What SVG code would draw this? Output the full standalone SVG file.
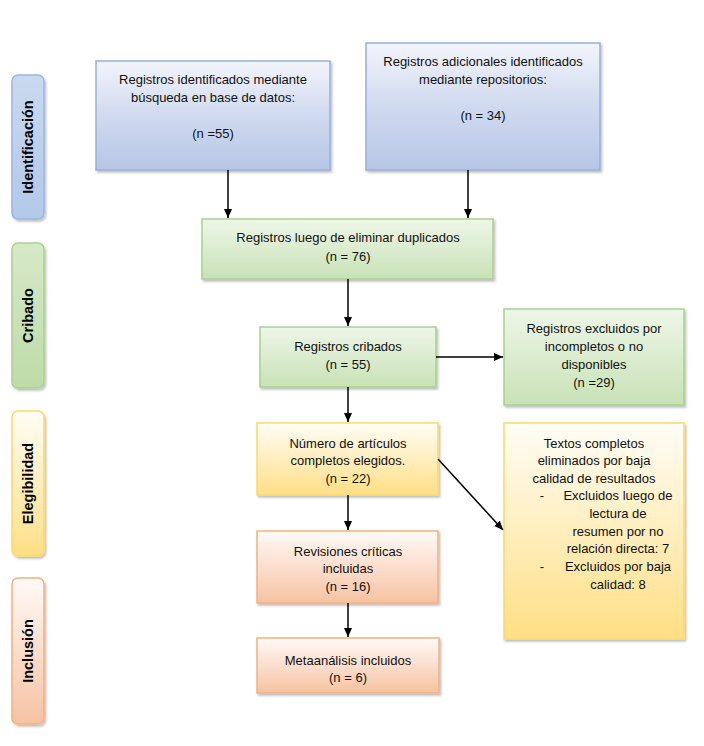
<svg xmlns="http://www.w3.org/2000/svg" width="704" height="746" viewBox="0 0 704 746">
<defs>
<linearGradient id="gBlue" x1="0" y1="0" x2="0" y2="1"><stop offset="0" stop-color="#f3f5fb"/><stop offset="0.45" stop-color="#d3dcf0"/><stop offset="1" stop-color="#b6c6e6"/></linearGradient>
<linearGradient id="gGreen" x1="0" y1="0" x2="0" y2="1"><stop offset="0" stop-color="#eef6e8"/><stop offset="1" stop-color="#c8e2b6"/></linearGradient>
<linearGradient id="gYellow" x1="0" y1="0" x2="0" y2="1"><stop offset="0" stop-color="#fffdf6"/><stop offset="1" stop-color="#ffdf85"/></linearGradient>
<linearGradient id="gPeach" x1="0" y1="0" x2="0" y2="1"><stop offset="0" stop-color="#fffaf7"/><stop offset="1" stop-color="#f6c2a2"/></linearGradient>
<linearGradient id="sBlue" x1="0" y1="0" x2="0" y2="1"><stop offset="0" stop-color="#c9d9f0"/><stop offset="1" stop-color="#b2c9e8"/></linearGradient>
<linearGradient id="sGreen" x1="0" y1="0" x2="0" y2="1"><stop offset="0" stop-color="#d6e9c8"/><stop offset="1" stop-color="#bedba8"/></linearGradient>
<filter id="sh" x="-10%" y="-10%" width="130%" height="130%"><feDropShadow dx="1.5" dy="2" stdDeviation="1.2" flood-color="#000" flood-opacity="0.25"/></filter>
<marker id="ah" markerWidth="10" markerHeight="10" refX="9" refY="5" orient="auto" markerUnits="userSpaceOnUse"><path d="M0,1 L9,5 L0,9 Z" fill="#000"/></marker>
</defs>
<style>
text{font-family:"Liberation Sans",Arial,sans-serif;font-size:13px;fill:#111;text-anchor:middle}
.side{font-weight:bold;font-size:14.5px;fill:#000}
.b{stroke-width:1.5}
.blue{fill:url(#gBlue);stroke:#98b0da}
.green{fill:url(#gGreen);stroke:#a9d18e}
.yellow{fill:url(#gYellow);stroke:#ffd966}
.peach{fill:url(#gPeach);stroke:#f4b183}
.conn line{stroke:#000;stroke-width:1.5;marker-end:url(#ah)}
</style>
<rect width="704" height="746" fill="#fff"/>

<g id="side-identificacion"><rect x="12" y="75" width="32" height="144" rx="6" fill="url(#sBlue)" stroke="#9bb7de" class="b" filter="url(#sh)"/><text class="side" transform="translate(33,147) rotate(-90)">Identificación</text></g>
<g id="side-cribado"><rect x="12" y="243" width="32" height="145" rx="6" fill="url(#sGreen)" stroke="#a9d18e" class="b" filter="url(#sh)"/><text class="side" transform="translate(33,315.5) rotate(-90)">Cribado</text></g>
<g id="side-elegibilidad"><rect x="12" y="411" width="32" height="145" rx="6" fill="url(#gYellow)" stroke="#ffd966" class="b" filter="url(#sh)"/><text class="side" transform="translate(33,483.5) rotate(-90)">Elegibilidad</text></g>
<g id="side-inclusion"><rect x="12" y="578" width="32" height="146" rx="6" fill="url(#gPeach)" stroke="#f4b183" class="b" filter="url(#sh)"/><text class="side" transform="translate(33,651) rotate(-90)">Inclusión</text></g>

<g id="n-busqueda"><rect x="96" y="61" width="234" height="109" class="blue b" filter="url(#sh)"/><text x="213" y="84">Registros identificados mediante</text><text x="213" y="102">búsqueda en base de datos:</text><text x="213" y="138">(n =55)</text></g>
<g id="n-repositorios"><rect x="366" y="43" width="234" height="127" class="blue b" filter="url(#sh)"/><text x="483" y="66">Registros adicionales identificados</text><text x="483" y="84">mediante repositorios:</text><text x="483" y="120">(n = 34)</text></g>
<g id="n-duplicados"><rect x="202" y="219" width="291" height="60" class="green b" filter="url(#sh)"/><text x="348" y="242">Registros luego de eliminar duplicados</text><text x="348" y="261">(n = 76)</text></g>
<g id="n-cribados"><rect x="260" y="327" width="176" height="60" class="green b" filter="url(#sh)"/><text x="348" y="351">Registros cribados</text><text x="348" y="369">(n = 55)</text></g>
<g id="n-excluidos"><rect x="504" y="309" width="180" height="96" class="green b" filter="url(#sh)"/><text x="594" y="333">Registros excluidos por</text><text x="594" y="351">incompletos o no</text><text x="594" y="369">disponibles</text><text x="594" y="387">(n =29)</text></g>
<g id="n-elegidos"><rect x="257" y="423" width="181" height="72" class="yellow b" filter="url(#sh)"/><text x="348" y="448">Número de artículos</text><text x="348" y="465">completos elegidos.</text><text x="348" y="483">(n = 22)</text></g>
<g id="n-eliminados"><rect x="504" y="423" width="180" height="216" class="yellow b" filter="url(#sh)"/><text x="594" y="448">Textos completos</text><text x="594" y="465">eliminados por baja</text><text x="594" y="483">calidad de resultados</text><text x="542" y="500">-</text><text x="618" y="500">Excluidos luego de</text><text x="618" y="518">lectura de</text><text x="618" y="536">resumen por no</text><text x="618" y="553">relación directa: 7</text><text x="542" y="571">-</text><text x="618" y="571">Excluidos por baja</text><text x="618" y="589">calidad: 8</text></g>
<g id="n-revisiones"><rect x="257" y="531" width="181" height="72" class="peach b" filter="url(#sh)"/><text x="348" y="556">Revisiones críticas</text><text x="348" y="573">incluidas</text><text x="348" y="591">(n = 16)</text></g>
<g id="n-metaanalisis"><rect x="257" y="638" width="182" height="55" class="peach b" filter="url(#sh)"/><text x="348" y="665">Metaanálisis incluidos</text><text x="348" y="682">(n = 6)</text></g>

<g id="connectors" class="conn">
<line x1="228" y1="170" x2="228" y2="218"/>
<line x1="468" y1="170" x2="468" y2="218"/>
<line x1="348" y1="279" x2="348" y2="326"/>
<line x1="436" y1="357" x2="503" y2="357"/>
<line x1="348" y1="387" x2="348" y2="422"/>
<line x1="438" y1="459" x2="503" y2="530"/>
<line x1="348" y1="495" x2="348" y2="530"/>
<line x1="348" y1="603" x2="348" y2="637"/>
</g>
</svg>
